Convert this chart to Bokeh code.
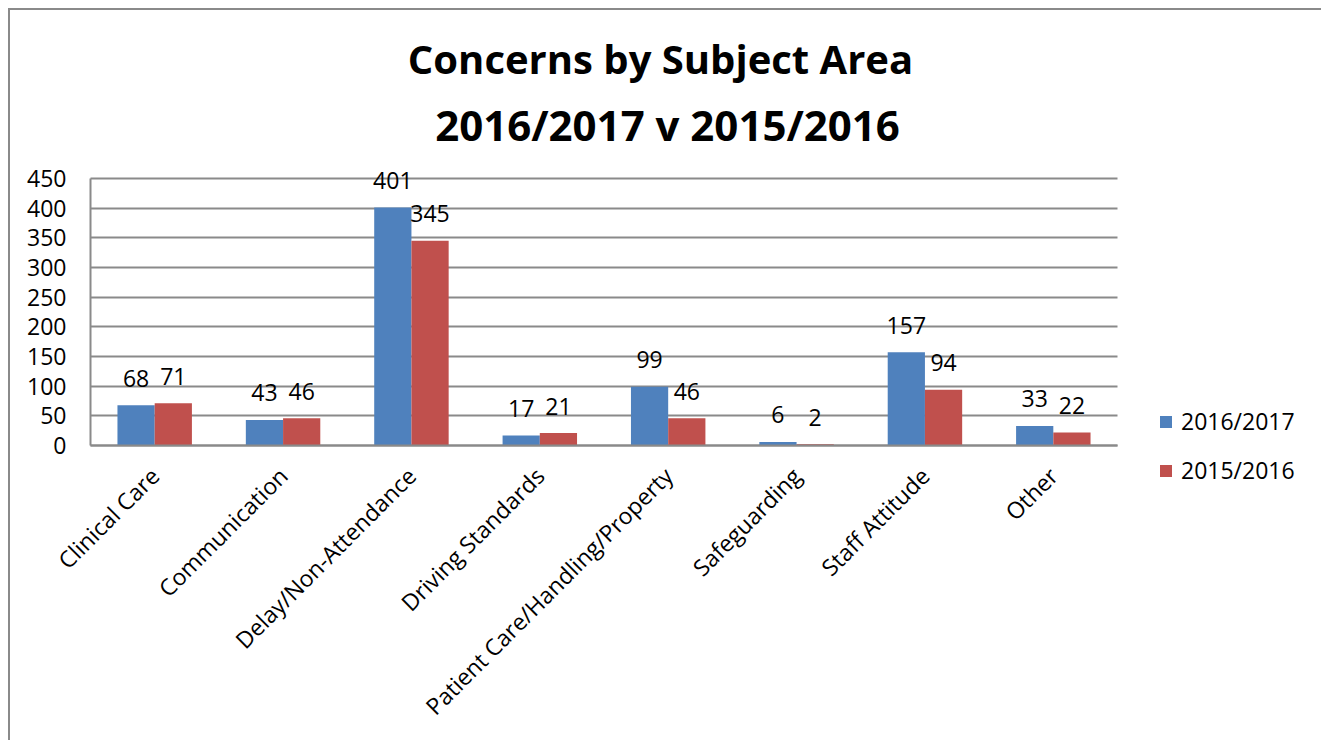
import math
from bokeh.plotting import figure
from bokeh.models import (ColumnDataSource, Range1d, FixedTicker, LabelSet, Label,
                          Legend, LegendItem)
from bokeh.core.properties import value
from bokeh.transform import dodge
from bokeh.embed import file_html
from bokeh.resources import INLINE

categories = ["Clinical Care", "Communication", "Delay/Non-Attendance", "Driving Standards",
              "Patient Care/Handling/Property", "Safeguarding", "Staff Attitude", "Other"]
series_2016_2017 = [68, 43, 401, 17, 99, 6, 157, 33]
series_2015_2016 = [71, 46, 345, 21, 46, 2, 94, 22]
series_names = ["2016/2017", "2015/2016"]
y_ticks = [0, 50, 100, 150, 200, 250, 300, 350, 400, 450]
title_lines = ["Concerns by Subject Area", "2016/2017 v 2015/2016"]

BLUE = "#4F81BD"
RED = "#C0504D"
GRID = "#8a8a8a"
FONT = "Open Sans"

idx = list(range(len(categories)))
src = ColumnDataSource(dict(x=idx, cat=categories, a=series_2016_2017, b=series_2015_2016))

# canvas geometry (px): the frame fills the whole canvas, axes drawn at fixed locations
W, H = 1313, 732
AXIS_X = 80              # canvas x of the value axis
SLOT = 128.375           # px per category
PX_PER_UNIT = 267 / 450  # px per value unit
ZERO_FROM_TOP = 435      # canvas y of value 0

x_axis_at = -0.5
x_start = x_axis_at - AXIS_X / SLOT
x_end = x_start + W / SLOT
y_start = -(H - ZERO_FROM_TOP) / PX_PER_UNIT
y_end = ZERO_FROM_TOP / PX_PER_UNIT

p = figure(width=W, height=H, output_backend="svg", toolbar_location=None,
           x_range=Range1d(x_start, x_end), y_range=Range1d(y_start, y_end),
           min_border_left=0, min_border_right=0, min_border_top=0, min_border_bottom=0)
p.styles = {"margin-left": "8px", "margin-top": "8px",
            "border-left": "2px solid #8a8a8a", "border-top": "2px solid #8a8a8a"}
p.outline_line_color = None
p.background_fill_color = "white"
p.border_fill_color = "white"

r1 = p.vbar(x=dodge("x", -0.145), top="a", width=0.29, source=src,
            fill_color=BLUE, line_color=None)
r2 = p.vbar(x=dodge("x", 0.145), top="b", width=0.29, source=src,
            fill_color=RED, line_color=None)

for col, off in (("a", -0.145), ("b", 0.145)):
    p.add_layout(LabelSet(x=dodge("x", off), y=col, text=col, source=src,
                          y_offset=27, text_align="center", text_baseline="middle",
                          text_font=value(FONT), text_font_size=value("23px"),
                          text_color="black"))

# y axis
p.yaxis.fixed_location = x_axis_at
p.yaxis.ticker = FixedTicker(ticks=y_ticks)
p.yaxis.bounds = (y_ticks[0], y_ticks[-1])
p.yaxis.major_tick_out = 0
p.yaxis.major_tick_in = 0
p.yaxis.minor_tick_out = 0
p.yaxis.minor_tick_in = 0
p.yaxis.major_label_standoff = 24
p.yaxis.axis_line_color = GRID
p.yaxis.axis_line_width = 2
p.yaxis.major_label_text_font = FONT
p.yaxis.major_label_text_font_size = "23px"
p.yaxis.major_label_text_color = "black"

# x axis (category axis) drawn at value 0
p.xaxis.fixed_location = 0
p.xaxis.ticker = FixedTicker(ticks=idx)
p.xaxis.major_label_overrides = {i: c for i, c in zip(idx, categories)}
p.xaxis.bounds = (-0.5, len(categories) - 0.5)
p.xaxis.minor_tick_out = 0
p.xaxis.minor_tick_in = 0
p.xaxis.major_tick_out = 0
p.xaxis.major_tick_in = 0
p.xaxis.axis_line_color = GRID
p.xaxis.axis_line_width = 2
p.xaxis.major_label_orientation = math.pi / 4
p.xaxis.major_label_standoff = 26
p.xaxis.major_label_text_font = FONT
p.xaxis.major_label_text_font_size = "23px"
p.xaxis.major_label_text_color = "black"

p.xgrid.grid_line_color = None
p.ygrid.grid_line_color = GRID
p.ygrid.grid_line_width = 2
p.ygrid.cross_bounds = (-0.5, len(categories) - 0.5)

# two-line title (screen px relative to the frame's bottom-left)
p.add_layout(Label(x=650, y=684, x_units="screen", y_units="screen", text=title_lines[0],
                   text_align="center", text_baseline="alphabetic", text_font=FONT,
                   text_font_style="bold", text_font_size="40px", text_color="black"))
p.add_layout(Label(x=657, y=618, x_units="screen", y_units="screen", text=title_lines[1],
                   text_align="center", text_baseline="alphabetic", text_font=FONT,
                   text_font_style="bold", text_font_size="42px", text_color="black"))

legend = Legend(items=[LegendItem(label=series_names[0], renderers=[r1]),
                       LegendItem(label=series_names[1], renderers=[r2])],
                location=(1148, 256), orientation="vertical",
                glyph_width=15, glyph_height=15, label_height=28, spacing=17,
                label_standoff=8, padding=0, margin=0,
                border_line_color=None, background_fill_alpha=0,
                label_text_font=FONT, label_text_font_size="23px", label_text_color="black")
p.add_layout(legend, "center")

open("out.html", "w").write(file_html(p, INLINE))
